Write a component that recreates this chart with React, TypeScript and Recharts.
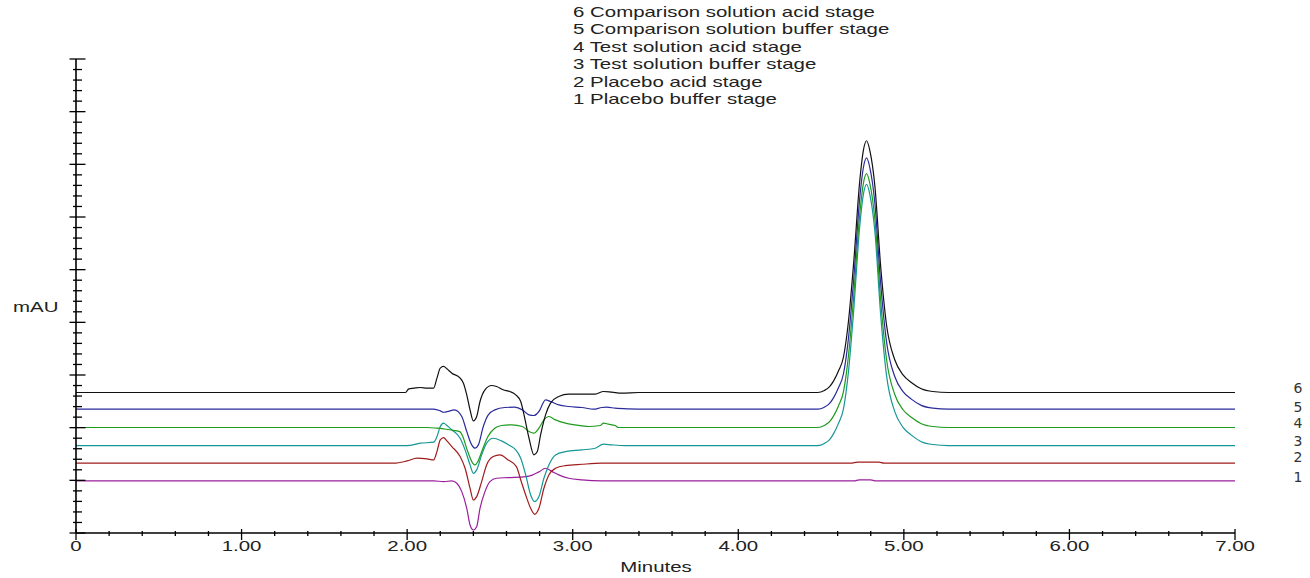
import React from "react";
import { LineChart, Line, XAxis, YAxis } from "recharts";

// ---- data (minutes, mAU) ----
const placeboBuffer: [number, number][] = [
  [0, 9.89], [2.16, 9.89], [2.22, 9.76], [2.27, 9.89], [2.3, 9.44], [2.33, 7.86], [2.36, 4.69],
  [2.38, 1.52], [2.4, 0.57], [2.42, 1.2], [2.44, 4.69], [2.47, 7.86], [2.5, 9.76], [2.54, 10.39],
  [2.61, 10.52], [2.716, 10.7], [2.756, 11.0], [2.796, 11.6], [2.836, 12.29], [2.876, 11.66],
  [2.916, 11.03], [2.976, 10.39], [3.056, 10.07], [3.176, 9.89], [4.7, 9.89], [4.73, 10.1],
  [4.8, 10.1], [4.83, 9.89], [7, 9.89],
];
const placeboAcid: [number, number][] = [
  [0, 13.25], [1.92, 13.25], [2.0, 13.69], [2.06, 14.2], [2.12, 14.07], [2.16, 13.88], [2.18, 15.46],
  [2.2, 17.68], [2.22, 18.12], [2.24, 17.49], [2.27, 16.41], [2.32, 14.51], [2.35, 12.29], [2.38, 8.49],
  [2.4, 6.27], [2.42, 6.91], [2.45, 9.76], [2.48, 12.93], [2.52, 14.51], [2.56, 14.83], [2.61, 13.88],
  [2.66, 12.61], [2.686, 10.07], [2.716, 7.22], [2.746, 4.69], [2.77, 3.55], [2.796, 4.69],
  [2.826, 8.49], [2.856, 11.03], [2.896, 12.29], [2.956, 12.8], [3.056, 13.05], [3.176, 13.25],
  [4.68, 13.25], [4.72, 13.45], [4.85, 13.45], [4.88, 13.25], [7, 13.25],
];
const testBuffer: [number, number][] = [
  [0, 16.6], [2.0, 16.6], [2.08, 17.05], [2.16, 17.24], [2.18, 18.31], [2.2, 20.22], [2.22, 20.85],
  [2.24, 20.41], [2.27, 19.58], [2.32, 17.99], [2.35, 15.78], [2.38, 12.93], [2.4, 11.34], [2.42, 11.98],
  [2.45, 14.83], [2.48, 17.05], [2.52, 17.99], [2.57, 17.49], [2.62, 16.6], [2.656, 15.78], [2.686, 14.2],
  [2.716, 11.03], [2.746, 7.22], [2.77, 5.96], [2.796, 6.91], [2.826, 10.39], [2.856, 12.93],
  [2.896, 14.83], [2.956, 15.46], [3.056, 15.78], [3.136, 16.1], [3.186, 16.86], [3.236, 16.73],
  [3.316, 16.6], [4.48, 16.6], [4.52, 17.0], [4.55, 17.69], [4.575, 18.83], [4.605, 20.82],
  [4.635, 23.54], [4.665, 30.49], [4.695, 41.4], [4.735, 58.76], [4.755, 64.22], [4.775, 66.2],
  [4.795, 64.22], [4.825, 57.27], [4.86, 41.4], [4.895, 29.99], [4.945, 23.05], [4.995, 20.07],
  [5.045, 18.58], [5.105, 17.34], [5.175, 16.8], [5.27, 16.6], [7, 16.6],
];
const testAcid: [number, number][] = [
  [0, 20.03], [2.12, 20.03], [2.18, 19.9], [2.22, 19.77], [2.28, 19.5], [2.32, 19.2], [2.336, 18.31],
  [2.366, 15.46], [2.397, 13.24], [2.41, 12.93], [2.427, 13.56], [2.458, 16.1], [2.488, 18.31],
  [2.529, 19.9], [2.57, 20.41], [2.631, 20.53], [2.696, 20.22], [2.736, 19.27], [2.766, 18.95],
  [2.796, 19.9], [2.826, 21.48], [2.856, 22.12], [2.896, 21.48], [2.956, 20.85], [3.016, 20.53],
  [3.096, 20.22], [3.166, 20.41], [3.186, 20.85], [3.216, 20.66], [3.256, 20.41], [3.276, 20.03],
  [4.48, 20.03], [4.52, 20.42], [4.55, 21.09], [4.575, 22.2], [4.605, 24.13], [4.635, 26.78],
  [4.665, 33.53], [4.695, 44.13], [4.735, 61.0], [4.755, 66.3], [4.775, 68.23], [4.795, 66.3],
  [4.825, 59.55], [4.86, 44.13], [4.895, 33.04], [4.945, 26.3], [4.995, 23.4], [5.045, 21.96],
  [5.105, 20.75], [5.175, 20.22], [5.27, 20.03], [7, 20.03],
];
const compBuffer: [number, number][] = [
  [0, 23.51], [2.16, 23.51], [2.2, 23.2], [2.22, 22.93], [2.25, 23.1], [2.285, 23.38], [2.33, 22.12],
  [2.36, 19.27], [2.39, 16.73], [2.41, 16.1], [2.43, 16.73], [2.46, 20.22], [2.49, 22.43], [2.53, 23.38],
  [2.59, 23.83], [2.65, 23.89], [2.696, 23.38], [2.736, 22.43], [2.766, 22.31], [2.796, 23.07],
  [2.836, 25.29], [2.866, 24.97], [2.916, 24.33], [2.976, 24.02], [3.056, 23.83], [3.126, 23.51],
  [3.176, 23.83], [3.206, 23.89], [3.256, 23.7], [3.336, 23.57], [3.45, 23.51], [4.48, 23.51],
  [4.52, 23.89], [4.55, 24.56], [4.575, 25.66], [4.605, 27.56], [4.635, 30.19], [4.665, 36.87],
  [4.695, 47.36], [4.735, 64.06], [4.755, 69.3], [4.775, 71.21], [4.795, 69.3], [4.825, 62.62],
  [4.86, 47.36], [4.895, 36.39], [4.945, 29.71], [4.995, 26.85], [5.045, 25.42], [5.105, 24.23],
  [5.175, 23.7], [5.27, 23.51], [7, 23.51],
];
const compAcid: [number, number][] = [
  [0, 26.68], [1.99, 26.68], [2.01, 27.38], [2.04, 27.5], [2.08, 27.63], [2.12, 27.5], [2.16, 27.5],
  [2.18, 29.41], [2.2, 31.31], [2.22, 31.62], [2.24, 31.18], [2.27, 30.35], [2.32, 29.41], [2.34, 28.45],
  [2.36, 26.24], [2.38, 23.38], [2.4, 21.29], [2.42, 22.12], [2.44, 24.97], [2.47, 27.19], [2.51, 28.01],
  [2.54, 27.82], [2.58, 27.19], [2.62, 26.87], [2.656, 26.24], [2.686, 24.97], [2.706, 22.43],
  [2.736, 18.0], [2.766, 14.83], [2.786, 15.46], [2.806, 18.63], [2.836, 22.43], [2.866, 24.65],
  [2.916, 25.92], [2.976, 26.36], [3.056, 26.36], [3.136, 26.36], [3.186, 26.87], [3.236, 26.74],
  [3.296, 26.55], [3.4, 26.68], [4.48, 26.68], [4.52, 27.06], [4.55, 27.73], [4.575, 28.83],
  [4.605, 30.74], [4.635, 33.37], [4.665, 40.06], [4.695, 50.58], [4.735, 67.31], [4.755, 72.57],
  [4.775, 74.48], [4.795, 72.57], [4.825, 65.88], [4.86, 50.58], [4.895, 39.59], [4.945, 32.89],
  [4.995, 30.03], [5.045, 28.59], [5.105, 27.4], [5.175, 26.87], [5.27, 26.68], [7, 26.68],
];

const seriesNames = [
  "1 Placebo buffer stage",
  "2 Placebo acid stage",
  "3 Test solution buffer stage",
  "4 Test solution acid stage",
  "5 Comparison solution buffer stage",
  "6 Comparison solution acid stage",
];
const seriesColors = ["#9a1e9a", "#a01c1c", "#169696", "#1e9a1e", "#2a2a9c", "#111111"];
const seriesData = [placeboBuffer, placeboAcid, testBuffer, testAcid, compBuffer, compAcid];

const xTicks = [
  0, 0.2, 0.4, 0.6, 0.8, 1, 1.2, 1.4, 1.6, 1.8, 2, 2.2, 2.4, 2.6, 2.8, 3, 3.2, 3.4, 3.6, 3.8, 4,
  4.2, 4.4, 4.6, 4.8, 5, 5.2, 5.4, 5.6, 5.8, 6, 6.2, 6.4, 6.6, 6.8, 7,
];
const xTickLabels = ["0", "1.00", "2.00", "3.00", "4.00", "5.00", "6.00", "7.00"];
const yTicks = [
  0, 2, 4, 6, 8, 10, 12, 14, 16, 18, 20, 22, 24, 26, 28, 30, 32, 34, 36, 38, 40, 42, 44, 46, 48, 50,
  52, 54, 56, 58, 60, 62, 64, 66, 68, 70, 72, 74, 76, 78, 80, 82, 84, 86, 88, 90,
];
const rightLabelValues = [10.7, 14.4, 17.5, 20.9, 24.0, 27.5];
const rightLabels = ["1", "2", "3", "4", "5", "6"];
const legendLines = [
  "6 Comparison solution acid stage",
  "5 Comparison solution buffer stage",
  "4 Test solution acid stage",
  "3 Test solution buffer stage",
  "2 Placebo acid stage",
  "1 Placebo buffer stage",
];

const FONT = "'Liberation Sans', Arial, sans-serif";
const SX = 1.46;

const XTick = (props: any) => {
  const { x, y, payload } = props;
  const v = payload.value as number;
  const major = Math.abs(v - Math.round(v)) < 1e-6;
  return (
    <g>
      <line x1={x} x2={x} y1={major ? y - 4 : y - 2} y2={major ? y + 7 : y + 3} stroke="#000" strokeWidth={1.3} />
      {major && (
        <text
          transform={`translate(${x},${y + 18}) scale(${SX},1)`}
          textAnchor="middle"
          fontSize={14}
          fontFamily={FONT}
          fill="#222"
        >
          {xTickLabels[Math.round(v)]}
        </text>
      )}
    </g>
  );
};

const YTick = (props: any) => {
  const { x, y, payload } = props;
  const v = payload.value as number;
  const major = v % 10 === 0;
  return (
    <line x1={major ? x - 6.5 : x - 3} x2={major ? x + 9.5 : x + 6} y1={y} y2={y} stroke="#000" strokeWidth={1.3} />
  );
};

const RTick = (props: any) => {
  const { x, y, payload } = props;
  const i = rightLabelValues.indexOf(payload.value);
  return (
    <text x={x + 63} y={y} textAnchor="middle" dominantBaseline="central" fontSize={14} fontFamily="'DejaVu Sans', sans-serif" fill="#333">
      {rightLabels[i]}
    </text>
  );
};

export default function App() {
  return (
    <div style={{ position: "absolute", left: 0, top: 0, width: 1310, height: 578, background: "#fff" }}>
      <LineChart width={1310} height={578} margin={{ top: 59, right: 15, bottom: 15, left: 16 }}>
        <XAxis
          type="number"
          dataKey="t"
          domain={[0, 7]}
          ticks={xTicks}
          interval={0}
          tick={XTick}
          tickLine={false}
          tickSize={0}
          tickMargin={0}
          height={30}
          axisLine={{ stroke: "#000", strokeWidth: 1.6 }}
          allowDataOverflow
        />
        <YAxis
          type="number"
          domain={[0, 90]}
          ticks={yTicks}
          interval={0}
          tick={YTick}
          tickLine={false}
          tickSize={0}
          tickMargin={0}
          width={60}
          axisLine={{ stroke: "#000", strokeWidth: 1.6 }}
          allowDataOverflow
        />
        <YAxis
          yAxisId="r"
          orientation="right"
          type="number"
          domain={[0, 90]}
          ticks={rightLabelValues}
          interval={0}
          tick={RTick}
          tickLine={false}
          tickSize={0}
          tickMargin={0}
          width={60}
          axisLine={false}
          allowDataOverflow
        />
        {seriesData.map((arr, i) => (
          <Line
            key={seriesNames[i]}
            name={seriesNames[i]}
            data={arr.map(([t, v]) => ({ t, v }))}
            dataKey="v"
            type="monotone"
            stroke={seriesColors[i]}
            strokeWidth={1.2}
            dot={false}
            activeDot={false}
            isAnimationActive={false}
          />
        ))}
      </LineChart>
      <svg
        width={1310}
        height={578}
        style={{ position: "absolute", left: 0, top: 0, pointerEvents: "none" }}
      >
        {legendLines.map((s, i) => (
          <text
            key={s}
            transform={`translate(573,${16.5 + i * 17.5}) scale(1.46,1)`}
            fontSize={14}
            fontFamily={FONT}
            fill="#222"
          >
            {s}
          </text>
        ))}
        <text transform={`translate(13,312) scale(${SX},1)`} fontSize={14} fontFamily={FONT} fill="#222">
          mAU
        </text>
        <text transform={`translate(656,572) scale(${SX},1)`} textAnchor="middle" fontSize={14} fontFamily={FONT} fill="#222">
          Minutes
        </text>
      </svg>
    </div>
  );
}
